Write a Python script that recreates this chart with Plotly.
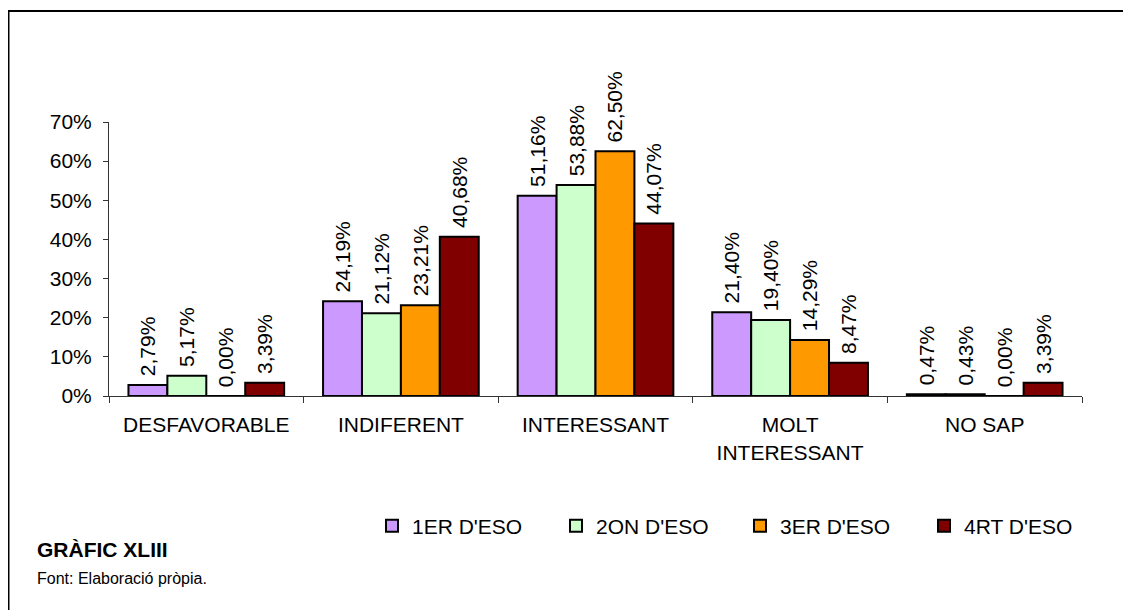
import plotly.graph_objects as go

categories = ["DESFAVORABLE", "INDIFERENT", "INTERESSANT", "MOLT<br>INTERESSANT", "NO SAP"]
series_names = ["1ER D'ESO", "2ON D'ESO", "3ER D'ESO", "4RT D'ESO"]
v_1er = [2.79, 24.19, 51.16, 21.40, 0.47]
v_2on = [5.17, 21.12, 53.88, 19.40, 0.43]
v_3er = [0.00, 23.21, 62.50, 14.29, 0.00]
v_4rt = [3.39, 40.68, 44.07, 8.47, 3.39]
colors = ["#CC99FF", "#CCFFCC", "#FF9900", "#800000"]
y_ticks = [0, 10, 20, 30, 40, 50, 60, 70]
y_ticktext = [f"{v}%" for v in y_ticks]

FONT = "Arial, 'Liberation Sans', sans-serif"

fig = go.Figure()
for name, vals, col in zip(series_names, [v_1er, v_2on, v_3er, v_4rt], colors):
    fig.add_trace(go.Bar(
        x=categories, y=vals, name=name,
        marker=dict(color=col, line=dict(color="black", width=2)),
        texttemplate=" %{y:.2f}%", textposition="outside", textangle=-90,
        constraintext="none", cliponaxis=False,
        textfont=dict(family=FONT, size=21, color="black"),
    ))

# page body adds an 8px offset; work in page pixels minus 8
OFF = 8
W, H = 1131 - OFF, 610 - OFF
L, R, T, B = 109 - OFF, 49, 122 - OFF, 214
pw, ph = W - L - R, H - T - B

def px(x):
    return (x - OFF - L) / pw

def py(y):
    return (H - B - (y - OFF)) / ph

fig.update_layout(
    width=W, height=H,
    margin=dict(l=L, r=R, t=T, b=B, autoexpand=False),
    paper_bgcolor="white", plot_bgcolor="white",
    font=dict(family=FONT, size=21, color="black"),
    separators=", ",
    barmode="group", bargap=0.2, bargroupgap=0,
    showlegend=True,
    legend=dict(orientation="h", x=px(372), y=py(526), xanchor="left", yanchor="middle",
                font=dict(size=21), entrywidth=139, entrywidthmode="pixels",
                itemwidth=30, tracegroupgap=0, bgcolor="rgba(0,0,0,0)"),
    xaxis=dict(showline=True, linecolor="#333333", linewidth=1, ticks="outside",
               tickson="boundaries", ticklen=6, tickcolor="#333333",
               showgrid=False, tickfont=dict(size=21), ticklabelstandoff=10),
    yaxis=dict(range=[0, 70], tickmode="array", tickvals=y_ticks, ticktext=y_ticktext,
               showline=True, linecolor="#333333", linewidth=1, ticks="outside", ticklen=5,
               tickcolor="#333333", showgrid=False, zeroline=False,
               tickfont=dict(size=21), ticklabelstandoff=7),
    shapes=[
        dict(type="line", xref="paper", yref="paper", x0=px(8.5), x1=px(1160),
             y0=py(11), y1=py(11), line=dict(color="black", width=2)),
        dict(type="line", xref="paper", yref="paper", x0=px(8.5), x1=px(8.5),
             y0=py(10), y1=py(640), line=dict(color="black", width=2)),
    ],
    annotations=[
        dict(text="<b>GRÀFIC XLIII</b>", xref="paper", yref="paper", x=px(35), y=py(549),
             xanchor="left", yanchor="middle", showarrow=False, font=dict(size=21)),
        dict(text="Font: Elaboració pròpia.", xref="paper", yref="paper", x=px(35), y=py(578),
             xanchor="left", yanchor="middle", showarrow=False, font=dict(size=16)),
    ],
)

fig.write_html("out.html")
